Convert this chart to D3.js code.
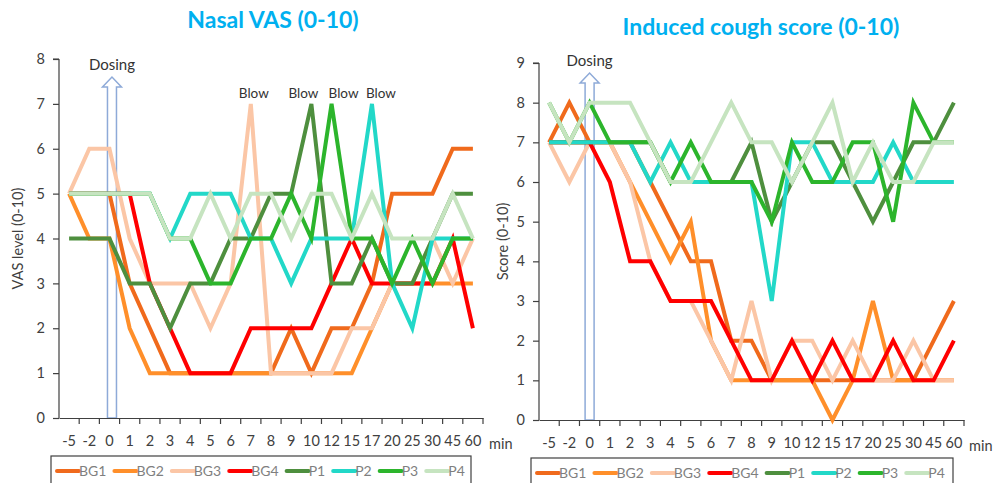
<!DOCTYPE html>
<html>
<head>
<meta charset="utf-8">
<script src="https://cdn.jsdelivr.net/npm/d3@7"></script>
<style>
  body { margin: 0; background: #fff; }
  svg { display: block; font-family: Lato, "Open Sans", sans-serif; }
</style>
</head>
<body>
<svg id="chart" width="995" height="483"></svg>
<script>
// time points (min)
const minutes = ['-5', '-2', '0', '1', '2', '3', '4', '5', '6', '7', '8', '9', '10', '12', '15', '17', '20', '25', '30', '45', '60'];
const seriesNames = ['BG1', 'BG2', 'BG3', 'BG4', 'P1', 'P2', 'P3', 'P4'];
const seriesColors = ['#f06a1c', '#ff8f2a', '#fbc6a6', '#ff0000', '#4e8f3e', '#22d8c8', '#2cb52c', '#c6e4c0'];

// Nasal VAS (0-10)
const vasBG1 = [5, 5, 5, 3, 2, 1, 1, 1, 1, 1, 1, 2, 1, 2, 2, 3, 5, 5, 5, 6, 6];
const vasBG2 = [5, 4, 4, 2, 1, 1, 1, 1, 1, 1, 1, 1, 1, 1, 1, 2, 3, 3, 3, 3, 3];
const vasBG3 = [5, 6, 6, 4, 3, 3, 3, 2, 3, 7, 1, 1, 1, 1, 2, 2, 3, 3, 4, 3, 4];
const vasBG4 = [5, 5, 5, 5, 3, 2, 1, 1, 1, 2, 2, 2, 2, 3, 4, 3, 3, 3, 3, 4, 2];
const vasP1 = [4, 4, 4, 3, 3, 2, 3, 3, 4, 4, 5, 5, 7, 3, 3, 4, 3, 3, 4, 5, 5];
const vasP2 = [5, 5, 5, 5, 5, 4, 5, 5, 5, 4, 4, 3, 4, 4, 4, 7, 3, 2, 4, 4, 4];
const vasP3 = [5, 5, 5, 5, 5, 4, 4, 3, 3, 4, 4, 5, 4, 7, 4, 4, 3, 4, 3, 4, 4];
const vasP4 = [5, 5, 5, 5, 5, 4, 4, 5, 4, 5, 5, 4, 5, 5, 4, 5, 4, 4, 4, 5, 4];
const vasTicks = [0, 1, 2, 3, 4, 5, 6, 7, 8];
const blowMinutes = ['7', '10', '12', '17'];

// Induced cough score (0-10)
const coughBG1 = [7, 8, 7, 7, 7, 6, 5, 4, 4, 2, 2, 1, 1, 1, 1, 1, 1, 1, 1, 2, 3];
const coughBG2 = [7, 7, 7, 7, 6, 5, 4, 5, 2, 1, 1, 1, 1, 1, 0, 1, 3, 1, 1, 1, 1];
const coughBG3 = [7, 6, 7, 7, 6, 4, 3, 3, 2, 1, 3, 1, 2, 2, 1, 2, 1, 1, 2, 1, 1];
const coughBG4 = [7, 7, 7, 6, 4, 4, 3, 3, 3, 2, 1, 1, 2, 1, 2, 1, 1, 2, 1, 1, 2];
const coughP1 = [7, 7, 7, 7, 7, 7, 6, 6, 6, 6, 7, 5, 6, 7, 7, 6, 5, 6, 7, 7, 8];
const coughP2 = [7, 7, 7, 7, 7, 6, 7, 6, 6, 6, 6, 3, 7, 7, 6, 6, 6, 7, 6, 6, 6];
const coughP3 = [8, 7, 8, 7, 7, 7, 6, 7, 6, 6, 6, 5, 7, 6, 6, 7, 7, 5, 8, 7, 7];
const coughP4 = [8, 7, 8, 8, 8, 7, 6, 6, 7, 8, 7, 7, 6, 7, 8, 6, 7, 6, 6, 7, 7];
const coughTicks = [0, 1, 2, 3, 4, 5, 6, 7, 8, 9];

const svg = d3.select('#chart');
const textColor = '#404040';

function drawPanel(p) {
  const g = svg.append('g');
  const x = d3.scaleBand().domain(minutes).range([p.x0, p.x1]);
  const y = d3.scaleLinear().domain([0, p.yMax]).range([p.y0, p.y1]);
  const cx = (m) => x(m) + x.bandwidth() / 2;

  // title
  g.append('text')
    .attr('x', p.titleX).attr('y', p.titleY)
    .attr('text-anchor', 'middle')
    .attr('font-size', p.titleSize).attr('font-weight', 'bold')
    .attr('fill', '#00b0f0')
    .text(p.title);

  // dosing arrow (behind the lines)
  const ax = cx('0') + p.arrowDx;
  const base = p.arrowTip + 10;
  g.append('path')
    .attr('d', `M${ax - 4.5},${y(0)}V${base}H${ax - 9.5}L${ax},${p.arrowTip}L${ax + 9.5},${base}H${ax + 4.5}V${y(0)}Z`)
    .attr('fill', 'none')
    .attr('stroke', '#8eaad8')
    .attr('stroke-width', 1.5);
  g.append('text')
    .attr('x', ax).attr('y', p.arrowTip - 7)
    .attr('text-anchor', 'middle')
    .attr('font-size', 15).attr('fill', '#333')
    .text('Dosing');

  // axes
  const yAxis = g.append('g')
    .attr('transform', `translate(${p.x0},0)`)
    .call(d3.axisLeft(y).tickValues(p.ticks).tickSize(6).tickPadding(8));
  const xAxis = g.append('g')
    .attr('transform', `translate(0,${p.y0})`)
    .call(d3.axisBottom(x).tickSize(0).tickPadding(18));
  [yAxis, xAxis].forEach((a) => {
    a.select('.domain').attr('stroke', textColor).attr('stroke-width', 1.2);
    a.selectAll('.tick line').attr('stroke', textColor).attr('stroke-width', 1.2);
    a.selectAll('text').attr('font-size', 14.5).attr('fill', textColor)
      .attr('font-family', 'Lato, sans-serif');
  });
  yAxis.select('.domain').attr('d', `M0,${p.y0}V${p.y1}M-6,${p.y1}H0`);
  // category boundary ticks
  xAxis.selectAll('.bound')
    .data(minutes)
    .enter().append('line')
    .attr('x1', (d) => x(d) + x.step()).attr('x2', (d) => x(d) + x.step())
    .attr('y1', 0).attr('y2', 6)
    .attr('stroke', textColor).attr('stroke-width', 1.2);

  g.append('text')
    .attr('x', p.minX).attr('y', p.y0 + 31)
    .attr('font-size', 14.5).attr('fill', textColor)
    .text('min');

  g.append('text')
    .attr('transform', `translate(${p.yTitleX},${(p.y0 + p.y1) / 2}) rotate(-90)`)
    .attr('text-anchor', 'middle')
    .attr('font-size', 14.5).attr('fill', textColor)
    .text(p.yTitle);

  // series lines
  const line = d3.line()
    .x((d, i) => cx(minutes[i]))
    .y((d) => y(d));
  g.append('g').selectAll('path')
    .data(p.series)
    .enter().append('path')
    .attr('d', (d) => line(d))
    .attr('fill', 'none')
    .attr('stroke', (d, i) => seriesColors[i])
    .attr('stroke-width', 4)
    .attr('stroke-linejoin', 'miter');

  if (p.blow) {
    const blowDx = [3, -8, 12, 9];
    g.selectAll('.blow')
      .data(p.blow)
      .enter().append('text')
      .attr('x', (d, i) => cx(d) + blowDx[i])
      .attr('y', p.blowY)
      .attr('text-anchor', 'middle')
      .attr('font-size', 13.5).attr('fill', '#333')
      .text('Blow');
  }

  // legend
  const lg = g.append('g');
  lg.append('rect')
    .attr('x', p.legX0).attr('y', p.legY)
    .attr('width', p.legX1 - p.legX0).attr('height', 40)
    .attr('fill', 'none').attr('stroke', textColor).attr('stroke-width', 1.2);
  let lx = p.legX0 + 6;
  const ly = p.legY + 15;
  seriesNames.forEach((name, i) => {
    lg.append('line')
      .attr('x1', lx).attr('x2', lx + 22)
      .attr('y1', ly).attr('y2', ly)
      .attr('stroke', seriesColors[i]).attr('stroke-width', 4)
      .attr('stroke-linecap', 'round');
    const t = lg.append('text')
      .attr('x', lx + 22).attr('y', ly + 5)
      .attr('font-size', 14).attr('fill', '#7f7f7f')
      .text(name);
    lx += 22 + t.node().getComputedTextLength() + p.legGap;
  });
}

drawPanel({
  title: 'Nasal VAS (0-10)', titleX: 273, titleY: 28, titleSize: 23,
  x0: 59, x1: 483, y0: 418, y1: 59, yMax: 8, ticks: vasTicks,
  yTitle: 'VAS level (0-10)', yTitleX: 23, minX: 489,
  arrowDx: 2.5, arrowTip: 77,
  series: [vasBG1, vasBG2, vasBG3, vasBG4, vasP1, vasP2, vasP3, vasP4],
  blow: blowMinutes, blowY: 98,
  legX0: 51, legX1: 471, legY: 456, legGap: 8
});

drawPanel({
  title: 'Induced cough score (0-10)', titleX: 761, titleY: 35, titleSize: 23,
  x0: 539, x1: 964, y0: 420, y1: 63, yMax: 9, ticks: coughTicks,
  yTitle: 'Score (0-10)', yTitleX: 508, minX: 969,
  arrowDx: 0, arrowTip: 73,
  series: [coughBG1, coughBG2, coughBG3, coughBG4, coughP1, coughP2, coughP3, coughP4],
  blow: null,
  legX0: 531, legX1: 953, legY: 458, legGap: 8
});
</script>
</body>
</html>
